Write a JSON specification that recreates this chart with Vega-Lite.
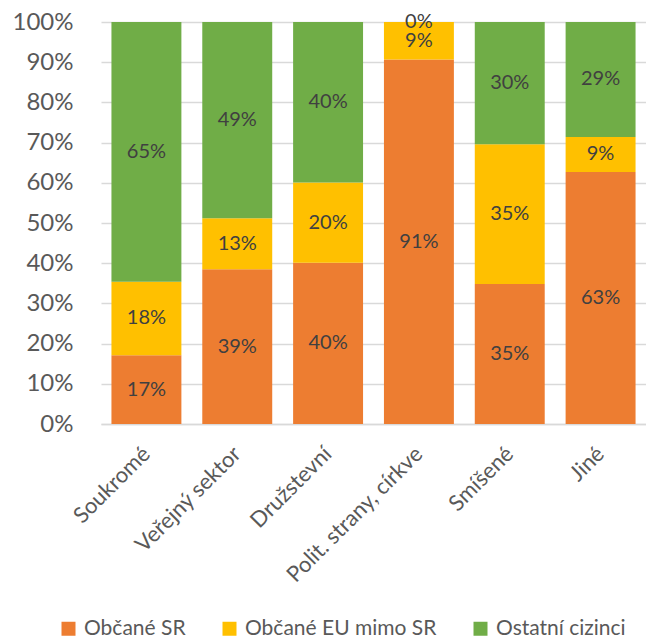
{
  "$schema": "https://vega.github.io/schema/vega-lite/v6.json",
  "width": 545,
  "height": 402,
  "autosize": {"type": "none"},
  "padding": {"left": 101, "top": 22, "right": 0, "bottom": 218},
  "background": "white",
  "config": {"view": {"stroke": null}, "font": "Lato"},
  "data": {"values": [
    {"cat": "Soukromé", "group": "Občané SR", "k": 1, "value": 0.171},
    {"cat": "Soukromé", "group": "Občané EU mimo SR", "k": 2, "value": 0.183},
    {"cat": "Soukromé", "group": "Ostatní cizinci", "k": 3, "value": 0.646},
    {"cat": "Veřejný sektor", "group": "Občané SR", "k": 1, "value": 0.385},
    {"cat": "Veřejný sektor", "group": "Občané EU mimo SR", "k": 2, "value": 0.127},
    {"cat": "Veřejný sektor", "group": "Ostatní cizinci", "k": 3, "value": 0.488},
    {"cat": "Družstevní", "group": "Občané SR", "k": 1, "value": 0.401},
    {"cat": "Družstevní", "group": "Občané EU mimo SR", "k": 2, "value": 0.2},
    {"cat": "Družstevní", "group": "Ostatní cizinci", "k": 3, "value": 0.399},
    {"cat": "Polit. strany, církve", "group": "Občané SR", "k": 1, "value": 0.907},
    {"cat": "Polit. strany, církve", "group": "Občané EU mimo SR", "k": 2, "value": 0.093},
    {"cat": "Polit. strany, církve", "group": "Ostatní cizinci", "k": 3, "value": 0.0},
    {"cat": "Smíšené", "group": "Občané SR", "k": 1, "value": 0.348},
    {"cat": "Smíšené", "group": "Občané EU mimo SR", "k": 2, "value": 0.348},
    {"cat": "Smíšené", "group": "Ostatní cizinci", "k": 3, "value": 0.304},
    {"cat": "Jiné", "group": "Občané SR", "k": 1, "value": 0.627},
    {"cat": "Jiné", "group": "Občané EU mimo SR", "k": 2, "value": 0.087},
    {"cat": "Jiné", "group": "Ostatní cizinci", "k": 3, "value": 0.286}
  ]},
  "transform": [
    {"stack": "value", "groupby": ["cat"], "sort": [{"field": "k", "order": "ascending"}], "as": ["y0", "y1"], "offset": "normalize"},
    {"calculate": "(datum.y0 + datum.y1) / 2", "as": "ym"}
  ],
  "encoding": {
    "x": {
      "field": "cat", "type": "nominal", "sort": null,
      "scale": {"paddingInner": 0.23, "paddingOuter": 0.115},
      "axis": {
        "title": null, "domainColor": "#d9d9d9", "domainWidth": 1.5, "ticks": false, "grid": false,
        "labelAngle": -45, "labelAlign": "right", "labelBaseline": "middle", "labelPadding": 26,
        "labelFontSize": 22, "labelColor": "#595959", "labelLimit": 400
      }
    }
  },
  "layer": [
    {
      "mark": {"type": "bar"},
      "encoding": {
        "y": {
          "field": "y0", "type": "quantitative", "scale": {"domain": [0, 1]},
          "axis": {
            "title": null, "values": [0, 0.1, 0.2, 0.3, 0.4, 0.5, 0.6, 0.7, 0.8, 0.9, 1],
            "format": ".0%", "domain": false, "ticks": false, "gridColor": "#d9d9d9", "gridWidth": 1.5,
            "labelFontSize": 24, "labelColor": "#595959", "labelPadding": 28
          }
        },
        "y2": {"field": "y1"},
        "color": {
          "field": "group", "type": "nominal",
          "scale": {"domain": ["Občané SR", "Občané EU mimo SR", "Ostatní cizinci"], "range": ["#ED7D31", "#FFC000", "#70AD47"]},
          "legend": {
            "title": null, "orient": "none", "legendX": -43, "legendY": 596, "direction": "horizontal",
            "symbolType": "square", "symbolSize": 196, "symbolStrokeWidth": 0, "symbolOpacity": 1,
            "labelFontSize": 21, "labelColor": "#595959", "labelOffset": 5, "columnPadding": 33,
            "labelLimit": 400
          }
        }
      }
    },
    {
      "mark": {"type": "text", "fontSize": 20, "color": "#404040", "baseline": "middle"},
      "encoding": {
        "y": {"field": "ym", "type": "quantitative"},
        "text": {"field": "value", "type": "quantitative", "format": ".0%"}
      }
    }
  ]
}
